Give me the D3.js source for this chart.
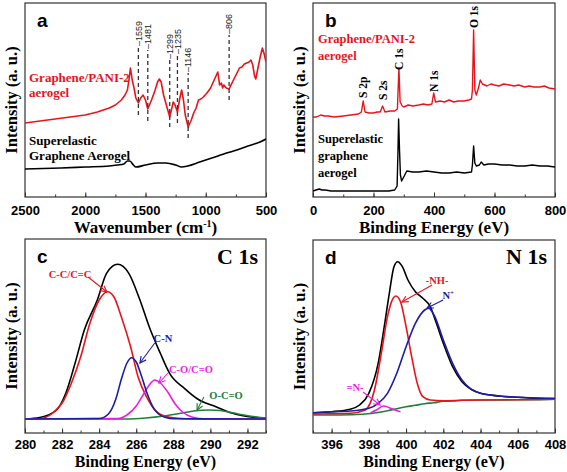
<!DOCTYPE html>
<html><head><meta charset="utf-8">
<script src="https://cdn.jsdelivr.net/npm/d3@7"></script>
<style>body{margin:0;background:#fff}</style>
</head><body><svg id="c" width="567" height="472"></svg>
<script>
// ---------- DATA ----------
// Panel a: FTIR, [wavenumber, intensity a.u.]
const ftirPani = [[2500,74],[2250,78],[2000,82],[1900,85],[1800,89],[1750,92],[1700,97],[1670,102],[1650,107],[1635,119],[1625,129],[1610,117],[1595,109],[1580,99],[1559,94],[1540,99],[1520,102],[1500,97],[1481,88],[1450,97],[1420,107],[1400,115],[1385,118],[1370,115],[1350,102],[1320,89],[1299,80],[1285,87],[1270,95],[1255,92],[1235,85],[1215,99],[1200,107],[1185,97],[1170,82],[1146,70],[1120,77],[1100,84],[1080,89],[1060,97],[1040,98],[1020,100],[990,104],[960,109],[930,117],[900,125],[885,112],[870,114],[860,109],[850,112],[830,109],[806,108],[790,112],[770,117],[745,123],[720,129],[700,130],[680,133],[660,134],[640,135],[625,137],[610,132],[595,121],[585,118],[570,127],[550,139],[530,149],[515,143],[500,135]];
const ftirGraphene = [[2500,28],[2200,29],[2000,30],[1800,31],[1730,32],[1680,33],[1650,36],[1630,36],[1600,32],[1580,30],[1500,32],[1400,34],[1330,34],[1250,32],[1200,30],[1150,31],[1050,35],[950,39],[850,43],[770,46],[650,51],[550,55],[500,58]];
const ftirPeaks = [1559,1481,1299,1235,1146,806];
const ftirDashTop = [150,147,137,142,124,162];
const ftirDashBottom = [82,76,70,74,59,97];
const ftirTicks = [2500,2000,1500,1000,500];

// Panel b: XPS survey, [binding energy eV, intensity]
const surveyPani = [[0,80],[12,80],[25,82],[38,81],[50,81],[70,80],[100,81],[125,82],[150,83],[160,85],[166,96],[172,85],[185,84],[200,84],[212,85],[222,85],[230,91],[238,85],[255,86],[270,86],[279,88],[284,129],[288,95],[295,91],[300,90],[315,92],[330,91],[350,92],[365,93],[380,92],[393,93],[399,104],[405,95],[420,96],[435,95],[450,97],[465,95],[480,96],[500,96],[515,97],[524,98],[527,107],[531,167],[535,107],[540,102],[547,109],[553,117],[560,113],[568,112],[575,111],[588,113],[600,112],[615,111],[630,113],[650,112],[665,111],[680,112],[700,110],[715,111],[730,110],[750,110],[765,111],[780,109],[800,108]];
const surveyGraphene = [[0,6],[10,7],[20,8],[30,7],[40,7],[60,6],[100,6],[150,6],[200,6],[250,6],[270,7],[278,11],[281,47],[283,78],[286,47],[289,22],[293,16],[300,20],[310,26],[330,25],[350,25],[375,26],[400,25],[425,24],[450,24],[475,25],[500,24],[524,25],[527,32],[531,51],[535,34],[540,31],[550,32],[556,35],[565,32],[580,33],[600,33],[625,32],[650,32],[675,31],[700,31],[725,32],[750,31],[775,31],[800,30]];
const surveyLabels = ["S 2p","S 2s","C 1s","N 1s","O 1s"];
const surveyLabelE = [166,230,284,399,531];
const surveyLabelI = [99,97,127,105,169];
const surveyTicks = [0,200,400,600,800];

// Panel c: C 1s, [binding energy eV, intensity]
const c1sEnvelope = [[280,0],[280.8,1.5],[281.7,9],[282.2,25.7],[282.7,55.7],[283.2,89],[283.9,119],[284.4,145.7],[285.0,154.7],[285.6,145.7],[286.2,119],[286.7,92.3],[287.3,65.7],[287.8,45.7],[288.6,30.7],[289.4,19],[290.3,12.3],[291.2,5.7],[292.3,1.7],[293,0.7]];
const c1sCC = [[280,0],[280.8,0.3],[281.5,6],[282.1,19],[282.5,35.7],[283.0,62],[283.5,95.7],[284.0,119],[284.45,127.3],[284.8,122],[285.2,102],[285.7,72],[286.1,42],[286.6,20.7],[287.1,7.3],[287.8,1.7],[288.7,0.3],[293,0]];
const c1sCN = [[280,0],[284.0,0.5],[284.5,5],[284.9,20],[285.2,40],[285.5,56],[285.75,61.3],[286.0,57],[286.3,42],[286.6,25],[286.9,12],[287.2,5],[287.6,1.5],[288.0,0.3],[293,0]];
const c1sCO = [[280,0],[285.0,0.5],[285.5,4],[286.0,13],[286.4,25],[286.7,34],[287.0,39],[287.3,36],[287.7,27],[288.1,15],[288.5,7],[289.0,2],[289.6,0.3],[293,0]];
const c1sOCO = [[280,0],[285.5,0],[286.5,1],[287.5,3],[288.5,6],[289.5,8.7],[290.0,9],[290.5,8.5],[291.5,5],[292.5,2],[293,1]];
const c1sTicks = [280,282,284,286,288,290,292];

// Panel d: N 1s, [binding energy eV, intensity]
const n1sEnvelope = [[395,2.3],[396,3.3],[397,5.7],[397.5,10],[398,21.7],[398.5,51.7],[398.8,85],[399.1,121.7],[399.35,148.3],[399.55,153.3],[399.8,148.3],[400.1,135],[400.5,123.3],[400.9,116.7],[401.3,108.3],[401.6,93.3],[402,71.7],[402.5,48.3],[403,33.3],[403.5,25.7],[404,21.7],[405,19],[406,17.7],[407,16.7],[408,16.3]];
const n1sNH = [[395,1],[396,1.3],[397,1.7],[397.8,5],[398.3,25],[398.7,65],[399.0,98.3],[399.3,116.7],[399.45,119],[399.7,113.3],[400.0,88.3],[400.3,58.3],[400.6,31.7],[400.9,18.3],[401.3,15],[402,14.3],[403,14.7],[404,15],[406,15.3],[408,15.7]];
const n1sNplus = [[395,2.3],[396,3.3],[397,4],[398,6.7],[398.5,11.7],[399,21.7],[399.5,41.7],[400,68.3],[400.5,91.7],[401.0,105],[401.2,106.7],[401.5,100],[402,75],[402.5,51.7],[403,35],[403.5,25.7],[404,21.7],[405,19],[406,17.7],[407,17],[408,16.7]];
const n1sImine = [[398.1,2.3],[398.4,5],[398.8,9],[399.1,7.3],[399.4,5],[399.7,3.3]];
const n1sBackground = [[395,0],[396,0],[397,0.3],[397.8,1],[398.4,2.3],[399,4.3],[399.5,6.3],[400,8.3],[400.5,9.7],[401,11.3],[401.5,12.3],[402,13.7],[402.5,14],[403,14.7],[404,15],[405,15],[406,15.3],[407,15.3],[408,15.7]];
const n1sTicks = [396,398,400,402,404,406,408];

// ---------- DRAWING ----------
const svg = d3.select('#c');
const serif = "'Liberation Serif','Times New Roman',serif";
const sans = "'Liberation Sans',Arial,sans-serif";
const RED = '#e8141c', BLUE = '#1c1ca8', MAG = '#e81ee8', GRN = '#20803a', BLK = '#000';

svg.append('defs').selectAll('marker').data([['ar',RED],['ab',BLUE],['am',MAG],['ag',GRN]]).join('marker')
  .attr('id', d => d[0]).attr('viewBox', '0 0 10 10').attr('refX', 9).attr('refY', 5)
  .attr('markerWidth', 7).attr('markerHeight', 7).attr('orient', 'auto')
  .append('path').attr('d', 'M1,1 L9,5 L1,9').attr('fill', 'none').attr('stroke', d => d[1]).attr('stroke-width', 1.5);

function panel(o) {
  const x = d3.scaleLinear().domain(o.xd).range([o.x0, o.x1]);
  const y = d3.scaleLinear().domain(o.yd).range([o.y1, o.y0]);
  const g = svg.append('g');
  const cid = 'clip' + o.id;
  g.append('clipPath').attr('id', cid).append('rect')
    .attr('x', o.x0).attr('y', o.y0).attr('width', o.x1 - o.x0).attr('height', o.y1 - o.y0);
  g.append('g').attr('transform', `translate(0,${o.y1})`)
    .call(d3.axisBottom(x).tickValues(o.minor).tickSizeInner(-2.5).tickSizeOuter(0).tickFormat(''))
    .call(a => a.select('.domain').remove())
    .call(a => a.selectAll('line').attr('stroke', '#333'));
  g.append('g').attr('transform', `translate(0,${o.y1})`)
    .call(d3.axisBottom(x).tickValues(o.ticks).tickSizeInner(-4.5).tickSizeOuter(0).tickPadding(o.pad).tickFormat(d3.format('d')))
    .call(a => a.select('.domain').remove())
    .call(a => a.selectAll('line').attr('stroke', '#333'))
    .call(a => a.selectAll('text').attr('font-family', sans).attr('font-weight', 'bold').attr('font-size', 13).attr('fill', '#000'));
  g.append('rect').attr('x', o.x0).attr('y', o.y0).attr('width', o.x1 - o.x0).attr('height', o.y1 - o.y0)
    .attr('fill', 'none').attr('stroke', '#333').attr('stroke-width', 1.2);
  const cg = g.append('g').attr('clip-path', `url(#${cid})`);
  o.series.forEach(s => {
    cg.append('path').datum(s.data)
      .attr('d', d3.line().x(d => x(d[0])).y(d => y(d[1])).curve(s.curve || d3.curveMonotoneX))
      .attr('fill', 'none').attr('stroke', s.color).attr('stroke-width', s.w || 1.6).attr('stroke-linejoin', 'round');
  });
  const xt = g.append('text').attr('x', (o.x0 + o.x1) / 2).attr('y', o.y1 + o.tOff).attr('text-anchor', 'middle')
    .attr('font-family', serif).attr('font-weight', 'bold').attr('font-size', o.tSize);
  o.xtitle(xt);
  g.append('text').attr('transform', `translate(${o.x0 - 8},${(o.y0 + o.y1) / 2}) rotate(-90)`)
    .attr('text-anchor', 'middle').attr('font-family', serif).attr('font-weight', 'bold').attr('font-size', 16.5)
    .text('Intensity (a. u.)');
  g.append('text').attr('x', o.x0 + 12).attr('y', o.y0 + 24).attr('font-family', sans)
    .attr('font-weight', 'bold').attr('font-size', 19).text(o.letter);
  return {g, x, y};
}

function txt(g, x, y, s, color, size, anchor) {
  return g.append('text').attr('x', x).attr('y', y).attr('fill', color).attr('font-family', serif)
    .attr('font-weight', 'bold').attr('font-size', size).attr('text-anchor', anchor || 'start').text(s);
}
function arrow(g, x1, y1, x2, y2, color, m) {
  g.append('line').attr('x1', x1).attr('y1', y1).attr('x2', x2).attr('y2', y2)
    .attr('stroke', color).attr('stroke-width', 1.1).attr('marker-end', `url(#${m})`);
}

// Panel a
{
  const minor = d3.range(2500, 499, -250);
  const {g, x, y} = panel({id: 'a', x0: 25, x1: 266, y0: 3, y1: 197, tOff: 36, tSize: 17, pad: 9, xd: [2500, 500], yd: [0, 194],
    ticks: ftirTicks, minor, letter: 'a',
    xtitle: t => { t.append('tspan').text('Wavenumber (cm'); t.append('tspan').attr('font-size', 10).attr('dy', -6).text('-1'); t.append('tspan').attr('dy', 6).text(')'); },
    series: [{data: ftirGraphene, color: BLK}, {data: ftirPani, color: RED, curve: d3.curveLinear}]});
  ftirPeaks.forEach((p, i) => {
    g.append('line').attr('x1', x(p)).attr('x2', x(p)).attr('y1', y(ftirDashBottom[i])).attr('y2', y(ftirDashTop[i]))
      .attr('stroke', '#333').attr('stroke-width', 1.3).attr('stroke-dasharray', '4,3');
    g.append('text').attr('transform', `translate(${x(p)},${y(ftirDashTop[i]) - 1}) rotate(-90)`)
      .attr('dy', '0.35em').attr('font-family', sans).attr('font-size', 9).attr('fill', '#222').text('\u2013' + p);
  });
  txt(g, 29, 82, 'Graphene/PANI-2', RED, 13);
  txt(g, 29, 97, 'aerogel', RED, 13);
  txt(g, 29, 145, 'Superelastic', BLK, 13);
  txt(g, 29, 160, 'Graphene Aerogel', BLK, 13);
}
// Panel b
{
  const {g, x, y} = panel({id: 'b', x0: 313, x1: 555, y0: 3, y1: 197, tOff: 36, tSize: 17, pad: 9, xd: [0, 800], yd: [0, 194],
    ticks: surveyTicks, minor: d3.range(0, 801, 100), letter: 'b',
    xtitle: t => t.text('Binding Energy (eV)'),
    series: [{data: surveyGraphene, color: BLK, curve: d3.curveLinear, w: 1.4}, {data: surveyPani, color: RED, curve: d3.curveLinear, w: 1.4}]});
  surveyLabels.forEach((s, i) => {
    g.append('text').attr('transform', `translate(${x(surveyLabelE[i])},${y(surveyLabelI[i])}) rotate(-90)`)
      .attr('dy', '0.35em').attr('font-family', serif).attr('font-weight', 'bold').attr('font-size', 11.5).text(s);
  });
  txt(g, 318, 43, 'Graphene/PANI-2', RED, 12.5);
  txt(g, 318, 60, 'aerogel', RED, 12.5);
  txt(g, 318, 143, 'Superelastic', BLK, 12.5);
  txt(g, 318, 160, 'graphene', BLK, 12.5);
  txt(g, 318, 177, 'aerogel', BLK, 12.5);
}
// Panel c
{
  const {g, x, y} = panel({id: 'c', x0: 25, x1: 266, y0: 239, y1: 433, tOff: 34, tSize: 16, pad: 7, xd: [280, 293], yd: [-14, 180],
    ticks: c1sTicks, minor: d3.range(280, 293.5, 1), letter: 'c',
    xtitle: t => t.text('Binding Energy (eV)'),
    series: [{data: c1sEnvelope, color: BLK}, {data: c1sCC, color: RED}, {data: c1sOCO, color: GRN},
             {data: c1sCO, color: MAG}, {data: c1sCN, color: BLUE}]});
  txt(g, 258, 264, 'C 1s', BLK, 22, 'end');
  txt(g, x(282.43), y(141), 'C-C/C=C', RED, 10.5, 'middle');
  arrow(g, x(283.40), y(142), x(284.42), y(127), RED, 'ar');
  txt(g, x(287.44), y(77), 'C-N', BLUE, 10.5, 'middle');
  arrow(g, x(287.0), y(76), x(286.2), y(56), BLUE, 'ab');
  txt(g, x(288.95), y(46), 'C-O/C=O', MAG, 10.5, 'middle');
  arrow(g, x(287.71), y(46), x(287.23), y(36), MAG, 'am');
  txt(g, x(290.84), y(20), 'O-C=O', GRN, 10.5, 'middle');
  arrow(g, x(289.65), y(22), x(289.28), y(9), GRN, 'ag');
}
// Panel d
{
  const {g, x, y} = panel({id: 'd', x0: 313, x1: 555, y0: 240, y1: 433, tOff: 34, tSize: 16, pad: 7, xd: [395, 408], yd: [-18, 175],
    ticks: n1sTicks, minor: d3.range(395, 408.5, 1), letter: 'd',
    xtitle: t => t.text('Binding Energy (eV)'),
    series: [{data: n1sBackground, color: GRN}, {data: n1sEnvelope, color: BLK}, {data: n1sNH, color: RED},
             {data: n1sImine, color: MAG}, {data: n1sNplus, color: BLUE}]});
  txt(g, 547, 264, 'N 1s', BLK, 22, 'end');
  txt(g, x(401.67), y(131), '-NH-', RED, 10.5, 'middle');
  arrow(g, x(401.40), y(130), x(399.78), y(113), RED, 'ar');
  const np = txt(g, x(401.95), y(116), 'N', BLUE, 10.5, 'start');
  np.append('tspan').attr('font-size', 7).attr('dy', -4).text('+');
  arrow(g, x(401.99), y(115), x(401.13), y(107), BLUE, 'ab');
  txt(g, x(397.26), y(24), '=N-', MAG, 10.5, 'middle');
  arrow(g, x(397.69), y(23), x(398.60), y(10), MAG, 'am');
}
</script></body></html>
